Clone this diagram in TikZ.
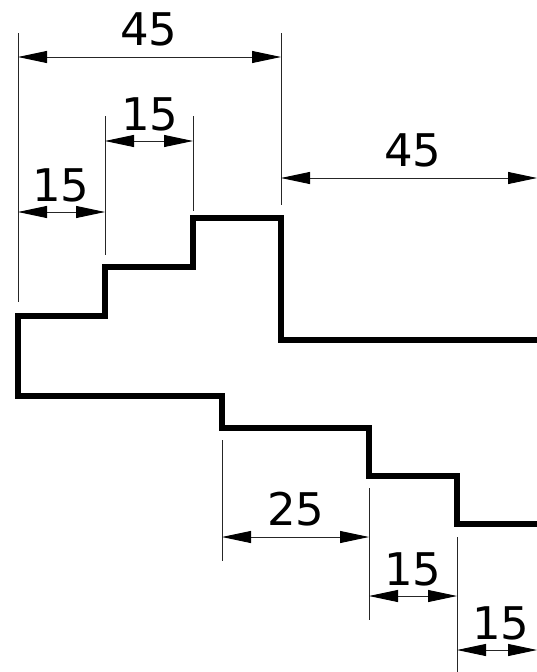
\documentclass[tikz,border=0pt]{standalone}
\usepackage{fontspec}
\setmainfont{DejaVu Sans}
\usetikzlibrary{arrows.meta}
\tikzset{
  profile/.style={line width=5.5pt,line cap=butt,line join=miter},
  extline/.style={line width=0.9pt,black!85},
  dimline/.style={line width=0.9pt,black!85,{Triangle[length=29pt,width=12pt,black]}-{Triangle[length=29pt,width=12pt,black]},shorten <=0pt,shorten >=0pt},
  dimtext/.style={inner sep=0pt,font=\fontsize{45}{45}\selectfont}
}
\begin{document}
\begin{tikzpicture}[x=1pt,y=-1pt]
\useasboundingbox (0,0) rectangle (537,672);
% profile
\draw[profile] (537,340) -- (281,340) -- (281,218) -- (193,218) -- (193,267) -- (105,267) -- (105,316) -- (18,316) -- (18,396) -- (222,396) -- (222,428) -- (369,428) -- (369,476) -- (457,476) -- (457,524) -- (537,524);
% extension line ends
\coordinate (a1) at (18,33);   \coordinate (a2) at (18,302);
\coordinate (b1) at (281,33);  \coordinate (b2) at (281,205);
\coordinate (c1) at (105,116); \coordinate (c2) at (105,255);
\coordinate (d1) at (193,116); \coordinate (d2) at (193,211);
\coordinate (e1) at (222,440); \coordinate (e2) at (222,561);
\coordinate (f1) at (369,488); \coordinate (f2) at (369,620);
\coordinate (g1) at (457,537); \coordinate (g2) at (457,672);
\foreach \p in {a,b,c,d,e,f,g} \draw[extline] (\p1) -- (\p2);
% dimension line ends
\coordinate (h1) at (18,57);   \coordinate (h2) at (281,57);
\coordinate (i1) at (105,141); \coordinate (i2) at (193,141);
\coordinate (j1) at (18,212);  \coordinate (j2) at (105,212);
\coordinate (k1) at (281,178); \coordinate (k2) at (537,178);
\coordinate (l1) at (222,537); \coordinate (l2) at (369,537);
\coordinate (m1) at (369,596); \coordinate (m2) at (457,596);
\coordinate (n1) at (457,650); \coordinate (n2) at (537,650);
\foreach \p in {h,i,j,k,l,m,n} \draw[dimline] (\p1) -- (\p2);
% labels
\node[dimtext] (t1) at (149,29.5) {45};
\node[dimtext] (t2) at (150,114) {15};
\node[dimtext] (t3) at (61,185) {15};
\node[dimtext] (t4) at (413,150.5) {45};
\node[dimtext] (t5) at (296,509.5) {25};
\node[dimtext] (t6) at (413,569.5) {15};
\node[dimtext] (t7) at (501,623.5) {15};
\end{tikzpicture}
\end{document}
